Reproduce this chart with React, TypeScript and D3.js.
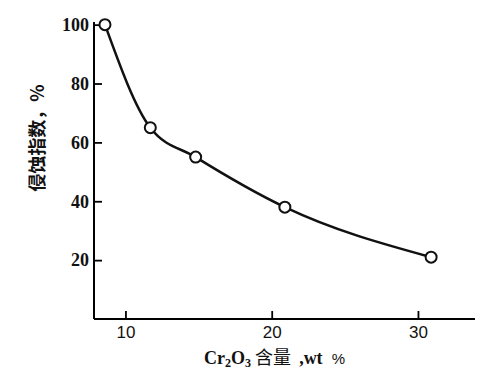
import React, { useEffect, useRef } from 'react';
import * as d3 from 'd3';

// Cr2O3 content (wt %) vs erosion index (%)
const cr2o3 = [8.6, 11.7, 14.8, 20.9, 30.9];
const erosionIndex = [100, 65, 55, 38, 21];
const xTicks = [10, 20, 30];
const yTicks = [20, 40, 60, 80, 100];

const App = () => {
  const ref = useRef<SVGSVGElement>(null);

  useEffect(() => {
    const width = 496;
    const height = 385;
    const left = 94;
    const right = 475;
    const top = 22;
    const bottom = 319;

    const svg = d3.select(ref.current);
    svg.selectAll('*').remove();
    svg.attr('width', width).attr('height', height);

    const x = d3.scaleLinear().domain([7.85, 33.9]).range([left, right]);
    const y = d3.scaleLinear().domain([0, 100.9]).range([bottom, top]);

    const yAxis = svg.append('g')
      .attr('transform', `translate(${left},0)`)
      .call(d3.axisLeft(y).tickValues(yTicks).tickSizeInner(-8).tickSizeOuter(0).tickPadding(5));
    yAxis.select('.domain').attr('stroke-width', 2).attr('d', `M0,${top}V${bottom}`);
    yAxis.selectAll('line').attr('stroke-width', 1.8);
    yAxis.selectAll('text')
      .attr('font-family', '"Liberation Serif", serif')
      .attr('font-weight', 'bold')
      .attr('font-size', 18)
      .attr('fill', '#111');

    const xAxis = svg.append('g')
      .attr('transform', `translate(0,${bottom})`)
      .call(d3.axisBottom(x).tickValues(xTicks).tickSizeInner(-8).tickSizeOuter(0).tickPadding(7));
    xAxis.select('.domain').attr('stroke-width', 2).attr('d', `M${left},0H${right}`);
    xAxis.selectAll('line').attr('stroke-width', 1.8);
    xAxis.selectAll('text')
      .attr('font-family', '"Liberation Sans", sans-serif')
      .attr('font-size', 17)
      .attr('fill', '#111');

    const pts: [number, number][] = cr2o3.map((c, i) => [c, erosionIndex[i]]);

    const line = d3.line<[number, number]>()
      .x(d => x(d[0]))
      .y(d => y(d[1]))
      .curve(d3.curveMonotoneX);

    svg.append('path')
      .datum(pts)
      .attr('d', line)
      .attr('fill', 'none')
      .attr('stroke', '#111')
      .attr('stroke-width', 2.5);

    svg.selectAll('circle.pt')
      .data(pts)
      .enter()
      .append('circle')
      .attr('class', 'pt')
      .attr('cx', d => x(d[0]))
      .attr('cy', d => y(d[1]))
      .attr('r', 5.5)
      .attr('fill', 'white')
      .attr('stroke', '#111')
      .attr('stroke-width', 2);

    // y label
    svg.append('text')
      .attr('transform', `translate(44,138) rotate(-90)`)
      .attr('text-anchor', 'middle')
      .attr('font-family', '"Noto Sans CJK SC", sans-serif')
      .attr('font-weight', 'bold')
      .attr('font-size', 18)
      .attr('fill', '#111')
      .text('侵蚀指数，%');

    // x label
    const xl = svg.append('text')
      .attr('x', 204)
      .attr('y', 364)
      .attr('font-family', '"Liberation Serif", serif')
      .attr('font-weight', 'bold')
      .attr('font-size', 18)
      .attr('fill', '#111')
      .attr('xml:space', 'preserve')
      .style('white-space', 'pre');
    xl.append('tspan').text('Cr');
    xl.append('tspan').attr('font-size', 12).attr('dy', 3).text('2');
    xl.append('tspan').attr('dy', -3).text('O');
    xl.append('tspan').attr('font-size', 12).attr('dy', 3).text('3');
    xl.append('tspan').attr('dy', -3).attr('font-family', '"Noto Sans CJK SC", sans-serif').attr('font-weight', 'normal').text(' 含量  ');
    xl.append('tspan').text(',wt  ');
    xl.append('tspan').attr('font-weight', 'normal').attr('font-family', '"Liberation Sans", sans-serif').attr('font-size', 15).text('%');
  }, []);

  return <svg ref={ref} style={{ position: 'absolute', left: 0, top: 0, background: 'white' }} />;
};

export default App;
